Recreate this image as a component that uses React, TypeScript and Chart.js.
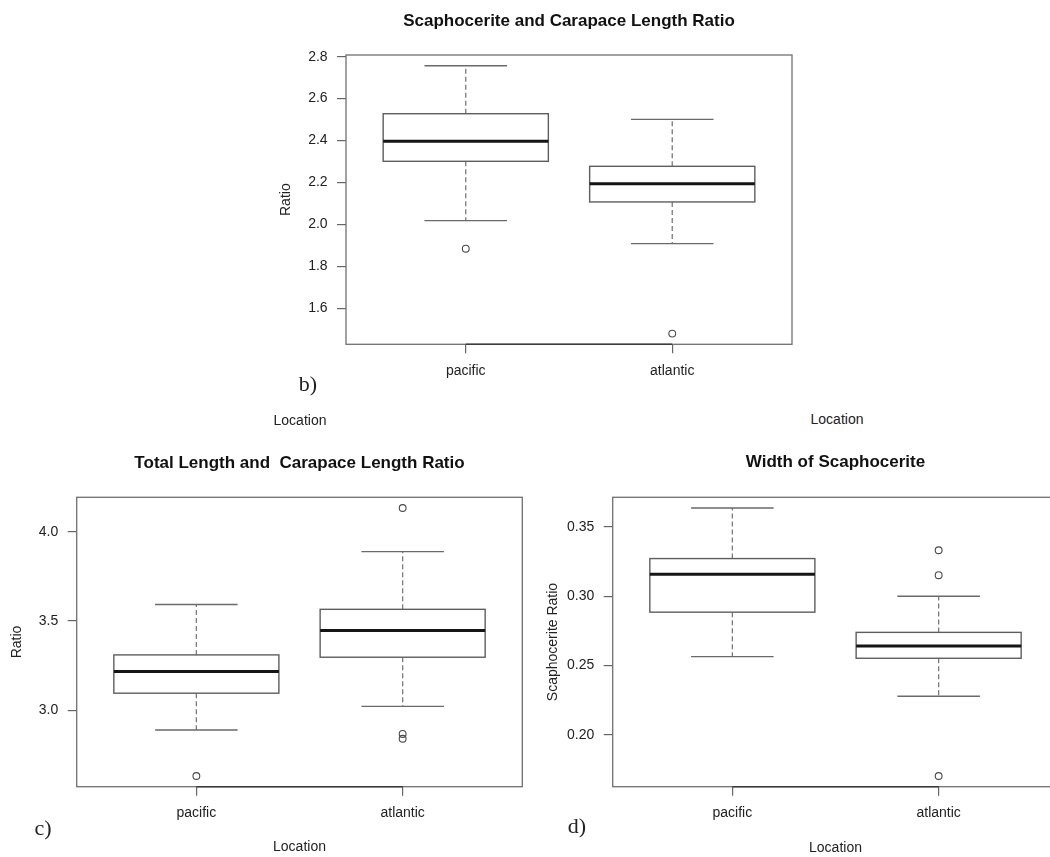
import React, { useEffect, useRef } from "react";
import { Chart, registerables } from "chart.js";

Chart.register(...registerables);

const FONT = "'Liberation Sans', Arial, Helvetica, sans-serif";
Chart.defaults.font.family = FONT;

// ---------- data ----------
const categories = ["pacific", "atlantic"];

// b) Scaphocerite and Carapace Length Ratio
const titleB = "Scaphocerite and Carapace Length Ratio";
const lowB = [2.018, 1.908];
const q1B = [2.301, 2.107];
const medB = [2.397, 2.194];
const q3B = [2.528, 2.277];
const highB = [2.757, 2.501];
const outliersB = [[1.884], [1.479]];
const ticksB = [1.6, 1.8, 2.0, 2.2, 2.4, 2.6, 2.8];

// c) Total Length and Carapace Length Ratio
const titleC = "Total Length and  Carapace Length Ratio";
const lowC = [2.888, 3.021];
const q1C = [3.095, 3.297];
const medC = [3.217, 3.447];
const q3C = [3.31, 3.566];
const highC = [3.593, 3.89];
const outliersC = [[2.63], [4.135, 2.866, 2.839]];
const ticksC = [3.0, 3.5, 4.0];

// d) Width of Scaphocerite
const titleD = "Width of Scaphocerite";
const lowD = [0.2564, 0.2278];
const q1D = [0.2885, 0.2552];
const medD = [0.3159, 0.2641];
const q3D = [0.3272, 0.2739];
const highD = [0.3637, 0.3];
const outliersD = [[], [0.3332, 0.3152, 0.1702]];
const ticksD = [0.2, 0.25, 0.3, 0.35];

type Stats = {
  low: number[];
  q1: number[];
  med: number[];
  q3: number[];
  high: number[];
  outliers: number[][];
};

type Panel = {
  title: string;
  yTitle: string;
  xTitle: string | null;
  stats: Stats;
  ticks: number[];
  decimals: number;
  left: number;
  top: number;
  width: number;
  height: number;
  frame: { l: number; t: number; r: number; b: number };
  titleY: number;
  xTitleY: number;
};

const panels: Panel[] = [
  {
    title: titleB,
    yTitle: "Ratio",
    xTitle: null,
    stats: { low: lowB, q1: q1B, med: medB, q3: q3B, high: highB, outliers: outliersB },
    ticks: ticksB,
    decimals: 1,
    left: 268.7,
    top: 0,
    width: 533,
    height: 400,
    frame: { l: 345.7, t: 55, r: 791.7, b: 344.3 },
    titleY: 21.7,
    xTitleY: 0,
  },
  {
    title: titleC,
    yTitle: "Ratio",
    xTitle: "Location",
    stats: { low: lowC, q1: q1C, med: medC, q3: q3C, high: highC, outliers: outliersC },
    ticks: ticksC,
    decimals: 1,
    left: 0,
    top: 440,
    width: 530,
    height: 417,
    frame: { l: 76.7, t: 497.3, r: 522.3, b: 786.7 },
    titleY: 463.3,
    xTitleY: 847,
  },
  {
    title: titleD,
    yTitle: "Scaphocerite Ratio",
    xTitle: "Location",
    stats: { low: lowD, q1: q1D, med: medD, q3: q3D, high: highD, outliers: outliersD },
    ticks: ticksD,
    decimals: 2,
    left: 536,
    top: 440,
    width: 530,
    height: 417,
    frame: { l: 612.7, t: 497.3, r: 1058.3, b: 786.7 },
    titleY: 462.7,
    xTitleY: 848,
  },
];

// ---------- R-style boxplot drawing plugin ----------
const boxPlugin = {
  id: "rbox",
  beforeDatasetsDraw(chart: any, _args: any, opts: any) {
    const { ctx, chartArea: a, scales } = chart;
    const xs = scales.x;
    const ys = scales.y;
    const s: Stats = opts.stats;
    ctx.save();
    // frame
    ctx.strokeStyle = "#707070";
    ctx.lineWidth = 1.3;
    ctx.setLineDash([]);
    ctx.strokeRect(a.left, a.top, a.right - a.left, a.bottom - a.top);
    // x axis line (from first to last tick)
    ctx.strokeStyle = "#3c3c3c";
    ctx.lineWidth = 1.6;
    ctx.beginPath();
    ctx.moveTo(xs.getPixelForValue(1), a.bottom);
    ctx.lineTo(xs.getPixelForValue(s.med.length), a.bottom);
    ctx.stroke();

    for (let i = 0; i < s.med.length; i++) {
      const xc = xs.getPixelForValue(i + 1);
      const hb = xs.getPixelForValue(i + 1.4) - xc;
      const hc = xs.getPixelForValue(i + 1.2) - xc;
      const yLo = ys.getPixelForValue(s.low[i]);
      const yQ1 = ys.getPixelForValue(s.q1[i]);
      const yMd = ys.getPixelForValue(s.med[i]);
      const yQ3 = ys.getPixelForValue(s.q3[i]);
      const yHi = ys.getPixelForValue(s.high[i]);

      // whiskers (dashed)
      ctx.strokeStyle = "#7a7a7a";
      ctx.lineWidth = 1.3;
      ctx.setLineDash([5, 3]);
      ctx.beginPath();
      ctx.moveTo(xc, yQ3);
      ctx.lineTo(xc, yHi);
      ctx.moveTo(xc, yQ1);
      ctx.lineTo(xc, yLo);
      ctx.stroke();
      ctx.setLineDash([]);

      // caps
      ctx.strokeStyle = "#6a6a6a";
      ctx.lineWidth = 1.4;
      ctx.beginPath();
      ctx.moveTo(xc - hc, yHi);
      ctx.lineTo(xc + hc, yHi);
      ctx.moveTo(xc - hc, yLo);
      ctx.lineTo(xc + hc, yLo);
      ctx.stroke();

      // box
      ctx.fillStyle = "#ffffff";
      ctx.fillRect(xc - hb, yQ3, 2 * hb, yQ1 - yQ3);
      ctx.strokeStyle = "#5e5e5e";
      ctx.lineWidth = 1.4;
      ctx.strokeRect(xc - hb, yQ3, 2 * hb, yQ1 - yQ3);

      // median
      ctx.strokeStyle = "#151515";
      ctx.lineWidth = 3;
      ctx.beginPath();
      ctx.moveTo(xc - hb, yMd);
      ctx.lineTo(xc + hb, yMd);
      ctx.stroke();
    }
    ctx.restore();
  },
};

function BoxChart({ p }: { p: Panel }) {
  const ref = useRef<HTMLCanvasElement | null>(null);

  useEffect(() => {
    if (!ref.current) return;
    const s = p.stats;
    const all = [...s.low, ...s.high, ...s.outliers.flat()];
    const dmin = Math.min(...all);
    const dmax = Math.max(...all);
    const ext = (dmax - dmin) * 0.04;
    const n = s.med.length;
    const xExt = (n - 1 + 1) * 0.04;

    const pts: { x: number; y: number }[] = [];
    s.outliers.forEach((arr, i) => arr.forEach((v) => pts.push({ x: i + 1, y: v })));

    const yWidth = p.frame.l - p.left;
    const titlePadTop = p.titleY - p.top - 10.2;
    const titlePadBottom = p.frame.t - p.top - titlePadTop - 20.4;
    const padRight = p.left + p.width - p.frame.r;
    const xHeight = p.top + p.height - p.frame.b;
    const xTitlePadBottom = p.top + p.height - p.xTitleY - 8.4;

    const chart = new Chart(ref.current, {
      type: "scatter",
      data: {
        datasets: [
          {
            data: pts,
            pointStyle: "circle",
            pointRadius: 3.4,
            pointBorderWidth: 1.1,
            pointBorderColor: "#4a4a4a",
            pointBackgroundColor: "rgba(0,0,0,0)",
            pointHoverRadius: 3.4,
          },
        ],
      },
      options: {
        animation: false,
        responsive: false,
        devicePixelRatio: 1,
        events: [],
        layout: { padding: { left: 0, right: padRight, top: 0, bottom: 0 } },
        plugins: {
          legend: { display: false },
          tooltip: { enabled: false },
          title: {
            display: true,
            text: p.title,
            fullSize: false,
            color: "#111111",
            font: { size: 17, weight: "bold", family: FONT },
            padding: { top: titlePadTop, bottom: titlePadBottom },
          },
          rbox: { stats: s },
        } as any,
        scales: {
          x: {
            type: "linear",
            min: 0.5 - xExt,
            max: n + 0.5 + xExt,
            afterBuildTicks: (scale: any) => {
              scale.ticks = categories.map((_, i) => ({ value: i + 1 }));
            },
            afterFit: (scale: any) => {
              scale.height = xHeight;
            },
            ticks: {
              callback: (v: any) => categories[Math.round(Number(v)) - 1] ?? "",
              color: "#222222",
              font: { size: 14, family: FONT },
              padding: 9,
              maxRotation: 0,
              autoSkip: false,
            },
            grid: {
              display: true,
              drawOnChartArea: false,
              drawTicks: true,
              tickLength: 9,
              color: "#666666",
              lineWidth: 1.2,
            },
            border: { display: false },
            title: {
              display: !!p.xTitle,
              text: p.xTitle ?? "",
              color: "#222222",
              font: { size: 14, family: FONT },
              padding: { top: 0, bottom: xTitlePadBottom },
            },
          },
          y: {
            type: "linear",
            min: dmin - ext,
            max: dmax + ext,
            afterBuildTicks: (scale: any) => {
              scale.ticks = p.ticks.map((v) => ({ value: v }));
            },
            afterFit: (scale: any) => {
              scale.width = yWidth;
            },
            ticks: {
              callback: (v: any) => Number(v).toFixed(p.decimals),
              color: "#222222",
              font: { size: 14, family: FONT },
              padding: 9.4,
              autoSkip: false,
            },
            grid: {
              display: true,
              drawOnChartArea: false,
              drawTicks: true,
              tickLength: 9,
              color: "#666666",
              lineWidth: 1.2,
            },
            border: { display: false },
            title: {
              display: true,
              text: p.yTitle,
              color: "#222222",
              font: { size: 14, family: FONT },
              padding: { top: 8.3, bottom: 0 },
            },
          },
        },
      } as any,
      plugins: [boxPlugin as any],
    });
    return () => chart.destroy();
  }, [p]);

  return (
    <canvas
      ref={ref}
      width={p.width}
      height={p.height}
      style={{
        position: "absolute",
        left: p.left,
        top: p.top,
        width: p.width,
        height: p.height,
      }}
    />
  );
}

const labelStyle: React.CSSProperties = {
  position: "absolute",
  transform: "translate(-50%, -50%)",
  whiteSpace: "nowrap",
  lineHeight: 1,
};

export default function App() {
  return (
    <div
      style={{
        position: "absolute",
        left: 0,
        top: 0,
        width: 1050,
        height: 857,
        overflow: "hidden",
        background: "#ffffff",
      }}
    >
      {panels.map((p, i) => (
        <BoxChart key={i} p={p} />
      ))}
      <div style={{ ...labelStyle, left: 308, top: 384, fontFamily: "'Liberation Serif', serif", fontSize: 22, color: "#222" }}>b)</div>
      <div style={{ ...labelStyle, left: 43, top: 828, fontFamily: "'Liberation Serif', serif", fontSize: 22, color: "#222" }}>c)</div>
      <div style={{ ...labelStyle, left: 577, top: 826, fontFamily: "'Liberation Serif', serif", fontSize: 22, color: "#222" }}>d)</div>
      <div style={{ ...labelStyle, left: 300, top: 420, fontFamily: FONT, fontSize: 14, color: "#222" }}>Location</div>
      <div style={{ ...labelStyle, left: 837, top: 419, fontFamily: FONT, fontSize: 14, color: "#222" }}>Location</div>
    </div>
  );
}
